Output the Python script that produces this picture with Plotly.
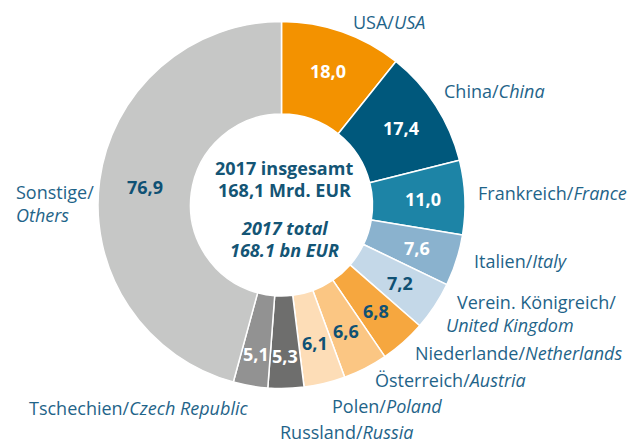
import math
import plotly.graph_objects as go

# Data
labels_de = ["USA", "China", "Frankreich", "Italien", "Verein. Königreich", "Niederlande",
             "Österreich", "Polen", "Russland", "Tschechien", "Sonstige"]
labels_en = ["USA", "China", "France", "Italy", "United Kingdom", "Netherlands",
             "Austria", "Poland", "Russia", "Czech Republic", "Others"]
values = [18.0, 17.4, 11.0, 7.6, 7.2, 6.8, 6.6, 6.1, 5.3, 5.1, 76.9]

colors = ["#F39200", "#00587C", "#1D84A6", "#8AB2CE", "#C4D8E8", "#F6A73F",
          "#FBC683", "#FDDDB7", "#6E6E6D", "#929292", "#C6C7C6"]
text_colors = ["white", "white", "white", "white", "#0F5174", "#0F5174",
               "#0F5174", "#0F5174", "white", "white", "#0F5174"]

value_text = [f"{v:.1f}".replace(".", ",") for v in values]

FONT = "Open Sans"
LABEL_COLOR = "#1F6489"
CENTER_COLOR = "#145575"
W, H = 641, 443

# pie geometry (pixels)
CX, CY, R = 281.5, 205.0, 183.5
HOLE = 0.496

fig = go.Figure(go.Pie(
    labels=labels_de,
    values=values,
    textinfo="none",
    sort=False,
    direction="clockwise",
    rotation=0,
    hole=HOLE,
    marker=dict(colors=colors, line=dict(color="white", width=1.5)),
    domain=dict(x=[(CX - R) / W, (CX + R) / W], y=[1 - (CY + R) / H, 1 - (CY - R) / H]),
    showlegend=False,
    customdata=labels_en,
    hovertemplate="%{label} / %{customdata}: %{value}<extra></extra>",
))

annotations = []

# value labels inside slices, positioned at each slice's mid-angle
total = sum(values)
cum = 0.0
for v, t, c in zip(values, value_text, text_colors):
    mid = (cum + v / 2) / total * 2 * math.pi
    cum += v
    r = 151 if v < 5.5 else (138 if v > 50 else 142)
    px = CX + r * math.sin(mid)
    py = CY - r * math.cos(mid)
    annotations.append(dict(
        text=f"<b>{t}</b>", x=px / W, y=1 - py / H, xref="paper", yref="paper",
        xanchor="center", yanchor="middle", showarrow=False,
        font=dict(family=FONT, size=18, color=c),
    ))

# Outside labels: (text, x_left_px, y_center_px)
outside = [
    ("USA/<i>USA</i>", 351, 22),
    ("China/<i>China</i>", 442, 91),
    ("Frankreich/<i>France</i>", 476, 193),
    ("Italien/<i>Italy</i>", 472, 261),
    ("Verein. Königreich/", 455, 302),
    ("<i>United Kingdom</i>", 444, 325),
    ("Niederlande/<i>Netherlands</i>", 413, 353),
    ("Österreich/<i>Austria</i>", 373, 380),
    ("Polen/<i>Poland</i>", 330, 406),
    ("Russland/<i>Russia</i>", 278, 432),
    ("Tschechien/<i>Czech Republic</i>", 27, 408),
    ("Sonstige/", 14, 192),
    ("<i>Others</i>", 14, 215),
]
for txt, x, y in outside:
    annotations.append(dict(
        text=txt, x=x / W, y=1 - y / H, xref="paper", yref="paper",
        xanchor="left", yanchor="middle", showarrow=False,
        font=dict(family=FONT, size=18, color=LABEL_COLOR),
    ))

center = [
    ("<b>2017 insgesamt</b>", 168),
    ("<b>168,1 Mrd. EUR</b>", 190),
    ("<b><i>2017 total</i></b>", 228),
    ("<b><i>168.1 bn EUR</i></b>", 250),
]
for txt, y in center:
    annotations.append(dict(
        text=txt, x=284 / W, y=1 - y / H, xref="paper", yref="paper",
        xanchor="center", yanchor="middle", showarrow=False,
        font=dict(family=FONT, size=18, color=CENTER_COLOR),
    ))

fig.update_layout(
    width=W, height=H,
    margin=dict(l=0, r=0, t=0, b=0),
    paper_bgcolor="white", plot_bgcolor="white",
    annotations=annotations,
)

fig.write_html("out.html", config={"displayModeBar": False},
               post_script="document.body.style.margin='0';")
